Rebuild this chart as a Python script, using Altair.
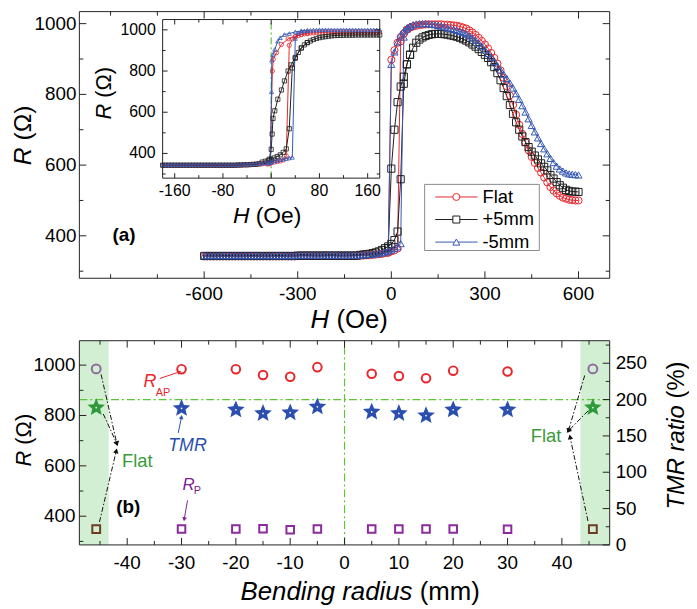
import math
import altair as alt
import pandas as pd

FONT = "Liberation Sans"

# ---------------- panel (a): major loop ----------------
SERIES = ["Flat", "+5mm", "-5mm"]
SERIES_COLORS = ["#e8262c", "#1e1e1e", "#3658b5"]
SERIES_SHAPES = ["circle", "square", "triangle-up"]

H_MAIN = list(range(-600, 601, 10))
R_MAIN_FLAT = [
    342, 342, 342, 342, 342, 342, 342, 342, 342, 342,
    342, 342, 342, 342, 342, 342, 342, 342, 342, 342,
    342, 342, 342, 342, 342, 342, 342, 342, 342, 342,
    343, 343, 343, 343, 343, 343, 343, 343, 343, 343,
    343, 343, 343, 343, 343, 343, 343, 343, 343, 343,
    344, 344, 345, 345, 346, 347, 348, 349, 351, 353,
    356, 359, 364, 950, 972, 983, 989, 992, 994, 996, 997,
    998, 998, 998, 998, 998, 998, 997, 997, 996, 995,
    994, 992, 989, 986, 981, 975, 968, 960, 951, 941,
    930, 917, 903, 887, 868, 847, 823, 797, 770, 742,
    714, 688, 664, 642, 623, 606, 592, 579, 565, 551,
    538, 528, 520, 513, 508, 505, 502, 501, 500, 500,
]
R_MAIN_P5 = [
    343, 343, 343, 343, 343, 343, 343, 343, 343, 343,
    343, 343, 343, 343, 343, 343, 343, 343, 343, 343,
    343, 343, 343, 343, 343, 343, 343, 343, 343, 343,
    344, 344, 344, 344, 344, 344, 344, 344, 344, 344,
    344, 344, 344, 344, 344, 344, 344, 344, 344, 344,
    346, 347, 348, 349, 351, 353, 356, 360, 365, 370,
    377, 388, 412, 560, 830, 885, 912, 932, 946, 955, 961,
    965, 968, 970, 971, 971, 971, 970, 969, 967, 965,
    963, 960, 956, 952, 947, 941, 935, 928, 920, 912,
    903, 891, 877, 860, 840, 818, 795, 770, 745, 721,
    700, 681, 665, 651, 638, 627, 616, 605, 595, 585,
    572, 562, 552, 543, 536, 530, 527, 525, 525, 524,
]
R_MAIN_M5 = [
    344, 344, 344, 344, 344, 344, 344, 344, 344, 344,
    344, 344, 344, 344, 344, 344, 344, 344, 344, 344,
    344, 344, 344, 344, 344, 344, 344, 344, 344, 344,
    345, 345, 345, 345, 345, 345, 345, 345, 345, 345,
    345, 345, 345, 345, 345, 345, 345, 345, 345, 345,
    346, 346, 347, 347, 348, 349, 350, 352, 354, 357,
    360, 364, 369, 378, 962, 985, 993, 997, 999, 1000, 1000,
    1000, 999, 998, 997, 995, 993, 991, 988, 986, 984,
    981, 978, 975, 971, 966, 960, 953, 945, 936, 926,
    916, 905, 893, 881, 869, 857, 845, 832, 818, 802,
    786, 768, 750, 731, 712, 694, 677, 661, 646, 632,
    619, 607, 597, 589, 583, 578, 575, 574, 573, 572,
]
H_MAIN_DOWN = [60, 50, 40, 30, 20, 10, 0, -10]
R_MAIN_DOWN_FLAT = [989, 983, 972, 962, 946, 925, 898, 352]
R_MAIN_DOWN_P5 = [912, 885, 850, 822, 778, 700, 590, 365]
R_MAIN_DOWN_M5 = [993, 988, 979, 968, 948, 920, 885, 357]

# inset (minor field range)
H_INSET = list(range(-180, 181, 5))
R_INSET_FLAT = [
    342, 342, 342, 342, 342, 342, 342, 342, 342, 342,
    342, 342, 342, 342, 342, 342, 342, 342, 342, 342,
    342, 342, 342, 342, 342,
    343, 343, 344, 344, 345, 346, 347, 348,
    349, 351, 353, 355, 357, 360, 363, 368, 389, 925,
    955, 966, 972, 977, 980, 982, 984, 985, 986, 987,
    987, 987, 988, 988, 988, 988, 988, 988, 988, 988,
    988, 988, 988, 988, 988, 988, 988, 988, 988, 988,
]
R_INSET_P5 = [
    343, 343, 343, 343, 343, 343, 343, 343, 343, 343,
    343, 343, 343, 343, 343, 343, 343, 343, 343, 343,
    343, 343, 343, 343, 343,
    344, 344, 345, 345, 346, 347, 348, 350,
    358, 362, 366, 371, 378, 385, 393, 405, 422, 520,
    815, 862, 890, 912, 927, 938, 946, 953, 958, 962,
    965, 967, 969, 971, 972, 973, 973, 974, 974, 974,
    974, 975, 975, 975, 975, 975, 975, 975, 975, 975,
]
R_INSET_M5 = [
    345, 345, 345, 345, 345, 345, 345, 345, 345, 345,
    345, 345, 345, 345, 345, 345, 345, 345, 345, 345,
    345, 345, 345, 345, 345,
    346, 346, 347, 347, 348, 349, 350, 351,
    352, 355, 357, 360, 363, 366, 369, 372, 375, 378,
    381, 958, 985, 993, 995, 997, 998, 999, 999, 1000,
    1000, 1000, 1000, 1000, 1000, 1000, 1000, 1000, 1000, 1000,
    1000, 1000, 1000, 1000, 1000, 1000, 1000, 1000, 1000, 1000,
]
H_INSET_DOWN_FLAT = [60, 50, 40, 28, 17, 9, 3.5, 2, -2, -6]
R_INSET_DOWN_FLAT = [982, 977, 968, 956, 929, 889, 857, 800, 350, 348]
H_INSET_DOWN_P5 = [60, 50, 40, 33, 28, 22, 17, 11, 6, 3, 1.6, 0, -3]
R_INSET_DOWN_P5 = [938, 912, 866, 830, 800, 752, 708, 663, 607, 570, 494, 420, 372]
H_INSET_DOWN_M5 = [60, 50, 40, 30, 22, 15, 11, 6, 3, 1, 0.5, -1, -5]
R_INSET_DOWN_M5 = [997, 995, 990, 982, 977, 962, 945, 905, 880, 853, 699, 355, 352]

A_LABEL_X = [-857]
A_LABEL_Y = [403]

# ---------------- panel (b): bending ----------------
RADIUS = [-30, -20, -15, -10, -5, 5, 10, 15, 20, 30]
R_AP = [984, 984, 961, 954, 992, 966, 957, 948, 978, 975]
R_P = [349, 349, 350, 346, 349, 349, 349, 349, 349, 348]
TMR = [188, 186, 181, 182, 190, 183, 181, 178, 186, 186]
FLAT_X = [-45.7, 45.7]
FLAT_RAP = [985, 985]
FLAT_RP = [349, 349]
FLAT_TMR = [189, 189]
SHADE_X1 = [-48.8, 43.4]
SHADE_X2 = [-43.4, 48.8]

ARROW_COLOR_X1 = [-34.0, -30.6, -28.9]
ARROW_COLOR_Y1 = [947, 731, 463]
ARROW_COLOR_X2 = [-30.4, -30.0, -29.5]
ARROW_COLOR_Y2 = [973, 794, 388]
ARROW_COLORS = ["#e8262c", "#2b4fae", "#7f2196"]
FLAT_ARROW_X1 = [-44.8, -44.4, -45.1, 44.2, 44.8, 44.8]
FLAT_ARROW_Y1 = [963, 806, 377, 959, 818, 381]
FLAT_ARROW_X2 = [-41.9, -41.9, -42.0, 41.2, 41.2, 41.5]
FLAT_ARROW_Y2 = [688, 688, 660, 739, 739, 715]

# tick values
MX_MAJ = [-600, -300, 0, 300, 600]
MX_MIN = [-900, -750, -450, -150, 150, 450]
MY_MAJ = [400, 600, 800, 1000]
MY_MIN = [300, 500, 700, 900]
IX_MAJ = [-160, -80, 0, 80, 160]
IX_MIN = [-120, -40, 40, 120]
IY_MAJ = [400, 600, 800, 1000]
IY_MIN = [300, 500, 700, 900]
BX_MAJ = [-40, -30, -20, -10, 0, 10, 20, 30, 40]
BX_MIN = [-45, -35, -25, -15, -5, 5, 15, 25, 35, 45]
BYL_MAJ = [400, 600, 800, 1000]
BYL_MIN = [300, 500, 700, 900]
BYR_MAJ = [0, 50, 100, 150, 200, 250]
BYR_MIN = [25, 75, 125, 175, 225, 275]

# ---------------- geometry (pixels inside the plot area) ----------------
W = 535
HT = 269
B0, B1 = 332, 538
HTOT = B1
IX0, IX1, IY0, IY1 = 84, 303, 8, 168

xs_main = alt.Scale(domain=[-1000, 700], range=[0, W], nice=False, zero=False)
ys_main = alt.Scale(domain=[280, 1034], range=[HT, 0], nice=False, zero=False)
xs_in = alt.Scale(domain=[-180, 180], range=[IX0, IX1], nice=False, zero=False)
ys_in = alt.Scale(domain=[280, 1050], range=[IY1, IY0], nice=False, zero=False)
xs_b = alt.Scale(domain=[-48.8, 48.8], range=[0, W], nice=False, zero=False)
ys_R = alt.Scale(domain=[286, 1097], range=[B1, B0], nice=False, zero=False)
ys_T = alt.Scale(domain=[0, 281], range=[B1, B0], nice=False, zero=False)


def star_path(r_in=0.45):
    pts = []
    for k in range(10):
        a = math.radians(-90 + 36 * k)
        r = 1.0 if k % 2 == 0 else r_in
        pts.append(f"{r * math.cos(a):.3f},{r * math.sin(a):.3f}")
    return "M" + "L".join(pts) + "Z"


STAR = star_path()
layers = []


def X(f, sc):
    return alt.X(f, scale=sc, axis=None)


def Y(f, sc):
    return alt.Y(f, scale=sc, axis=None)


def ticks_x(values, sc, y1, y2):
    return alt.Chart(pd.DataFrame({"v": values})).mark_rule(color="#222", strokeWidth=1).encode(
        x=X("v:Q", sc), y=alt.value(y1), y2=alt.value(y2))


def ticks_y(values, sc, x1, x2):
    return alt.Chart(pd.DataFrame({"v": values})).mark_rule(color="#222", strokeWidth=1).encode(
        y=Y("v:Q", sc), x=alt.value(x1), x2=alt.value(x2))


def labels_x(values, sc, y, size):
    return alt.Chart(pd.DataFrame({"v": values, "t": [str(v) for v in values]})).mark_text(
        font=FONT, fontSize=size, align="center", baseline="top", color="black").encode(
        x=X("v:Q", sc), y=alt.value(y), text="t:N")


def labels_y(values, sc, x, size, align):
    return alt.Chart(pd.DataFrame({"v": values, "t": [str(v) for v in values]})).mark_text(
        font=FONT, fontSize=size, align=align, baseline="middle", color="black").encode(
        y=Y("v:Q", sc), x=alt.value(x), text="t:N")


def ptext(text, x, y, size, color="black", style="normal", weight="normal",
          align="left", baseline="alphabetic", angle=0):
    return alt.Chart(pd.DataFrame({"t": [text]})).mark_text(
        font=FONT, fontSize=size, fontStyle=style, fontWeight=weight, color=color,
        align=align, baseline=baseline, angle=angle).encode(
        x=alt.value(x), y=alt.value(y), text="t:N")


def title_pair(ital, normal, x, y, size, vertical=False):
    gap = 0.28 * size
    if vertical:
        return [ptext(ital, x, y, size, style="italic", align="right", angle=270),
                ptext(normal, x, y - gap, size, align="left", angle=270)]
    return [ptext(ital, x, y, size, style="italic", align="right"),
            ptext(normal, x + gap, y, size, align="left")]


def frame(xsc, ysc, xd, yd):
    return alt.Chart(pd.DataFrame({"x": [xd[0]], "x2": [xd[1]], "y": [yd[0]], "y2": [yd[1]]})).mark_rect(
        fillOpacity=0, stroke="#222", strokeWidth=1).encode(
        x=X("x:Q", xsc), x2="x2:Q", y=Y("y:Q", ysc), y2="y2:Q")


def loop_frame(up_H, ups, downs_H, downs):
    rows = []
    for k, s in enumerate(SERIES):
        for i, (h, r) in enumerate(zip(up_H, ups[k])):
            rows.append({"series": s, "col": SERIES_COLORS[k], "shp": SERIES_SHAPES[k],
                         "key": f"{k}u", "o": i, "H": h, "R": r})
        for i, (h, r) in enumerate(zip(downs_H[k], downs[k])):
            rows.append({"series": s, "col": SERIES_COLORS[k], "shp": SERIES_SHAPES[k],
                         "key": f"{k}d", "o": i, "H": h, "R": r})
    return pd.DataFrame(rows)


def loop_layers(df, xsc, ysc, msize, sw):
    lines = alt.Chart(df).mark_line(strokeWidth=1).encode(
        x=X("H:Q", xsc), y=Y("R:Q", ysc),
        color=alt.Color("col:N", scale=None), detail="key:N", order="o:Q")
    pts = alt.Chart(df).mark_point(filled=False, size=msize, strokeWidth=sw, opacity=1).encode(
        x=X("H:Q", xsc), y=Y("R:Q", ysc),
        color=alt.Color("col:N", scale=None), shape=alt.Shape("shp:N", scale=None))
    return [lines, pts]


df_main = loop_frame(H_MAIN, [R_MAIN_FLAT, R_MAIN_P5, R_MAIN_M5],
                     [H_MAIN_DOWN] * 3, [R_MAIN_DOWN_FLAT, R_MAIN_DOWN_P5, R_MAIN_DOWN_M5])
df_in = loop_frame(H_INSET, [R_INSET_FLAT, R_INSET_P5, R_INSET_M5],
                   [H_INSET_DOWN_FLAT, H_INSET_DOWN_P5, H_INSET_DOWN_M5],
                   [R_INSET_DOWN_FLAT, R_INSET_DOWN_P5, R_INSET_DOWN_M5])

# ---- panel (a) main ----
layers += loop_layers(df_main, xs_main, ys_main, 52, 1)
layers += [
    frame(xs_main, ys_main, (-1000, 700), (280, 1034)),
    ticks_x(MX_MAJ, xs_main, HT - 7, HT), ticks_x(MX_MIN, xs_main, HT - 4, HT),
    ticks_x(MX_MAJ, xs_main, 0, 7), ticks_x(MX_MIN, xs_main, 0, 4),
    ticks_y(MY_MAJ, ys_main, 0, 7), ticks_y(MY_MIN, ys_main, 0, 4),
    ticks_y(MY_MAJ, ys_main, W - 7, W), ticks_y(MY_MIN, ys_main, W - 4, W),
    labels_x(MX_MAJ, xs_main, HT + 6.5, 19),
    labels_y(MY_MAJ, ys_main, -3, 19, "right"),
    alt.Chart(pd.DataFrame({"x": A_LABEL_X, "y": A_LABEL_Y, "t": ["(a)"]})).mark_text(
        font=FONT, fontSize=19, fontWeight="bold", color="black").encode(
        x=X("x:Q", xs_main), y=Y("y:Q", ys_main), text="t:N"),
    *title_pair("R", "(\u03a9)", -49, 137, 25, vertical=True),
    *title_pair("H", "(Oe)", 252, 319, 26),
]

# ---- inset ----
layers += [
    alt.Chart(pd.DataFrame({"x": [0], "y": [280], "y2": [1050]})).mark_rule(
        color="#5cc43a", strokeDash=[7, 3, 2, 3], strokeWidth=1.2).encode(
        x=X("x:Q", xs_in), y=Y("y:Q", ys_in), y2="y2:Q"),
]
layers += loop_layers(df_in, xs_in, ys_in, 18, 0.8)
layers += [
    frame(xs_in, ys_in, (-180, 180), (280, 1050)),
    ticks_x(IX_MAJ, xs_in, IY1 - 5, IY1), ticks_x(IX_MIN, xs_in, IY1 - 3, IY1),
    ticks_x(IX_MAJ, xs_in, IY0, IY0 + 5), ticks_x(IX_MIN, xs_in, IY0, IY0 + 3),
    ticks_y(IY_MAJ, ys_in, IX0, IX0 + 5), ticks_y(IY_MIN, ys_in, IX0, IX0 + 3),
    ticks_y(IY_MAJ, ys_in, IX1 - 5, IX1), ticks_y(IY_MIN, ys_in, IX1 - 3, IX1),
    labels_x(IX_MAJ, xs_in, IY1 + 5.5, 16),
    labels_y(IY_MAJ, ys_in, IX0 - 7, 16, "right"),
    *title_pair("R", "(\u03a9)", 32, 93, 22, vertical=True),
    *title_pair("H", "(Oe)", 171.5, 213.5, 23),
]

# ---- legend (guide) ----
leg_df = pd.DataFrame({"series": SERIES, "col": SERIES_COLORS, "shp": SERIES_SHAPES, "row": [0, 1, 2]})
leg_y = alt.Scale(domain=[0, 2], range=[187, 232.5], nice=False, zero=False)
layers += [
    alt.Chart(pd.DataFrame({"a": [0]})).mark_rect(fill="white", stroke="#8a8a8a", strokeWidth=1).encode(
        x=alt.value(348.3), x2=alt.value(464), y=alt.value(174.3), y2=alt.value(241)),
    alt.Chart(leg_df).mark_rule(strokeWidth=1).encode(
        x=alt.value(359), x2=alt.value(401.7), y=Y("row:Q", leg_y),
        color=alt.Color("col:N", scale=None)),
    alt.Chart(leg_df).mark_point(filled=True, fill="white", size=50, strokeWidth=1, opacity=1).encode(
        x=alt.value(380.3), y=Y("row:Q", leg_y),
        stroke=alt.Stroke("col:N", scale=None), shape=alt.Shape("shp:N", scale=None)),
    alt.Chart(leg_df).mark_text(font=FONT, fontSize=18.5, align="left", baseline="middle",
                                color="black").encode(
        x=alt.value(406.7), y=Y("row:Q", leg_y), text="series:N"),
]

# ---- panel (b) ----
KX = W / (48.8 * 2)
KY = (B1 - B0) / (1097 - 286)


def head_angle(x1, y1, x2, y2):
    dx = (x2 - x1) * KX
    dy = -(y2 - y1) * KY
    return (math.degrees(math.atan2(dx, -dy)) + 360) % 360


bdf = pd.DataFrame({"x": RADIUS, "rap": R_AP, "rp": R_P, "tmr": TMR})
fdf = pd.DataFrame({"x": FLAT_X, "rap": FLAT_RAP, "rp": FLAT_RP, "tmr": FLAT_TMR})
shade_df = pd.DataFrame({"x": SHADE_X1, "x2": SHADE_X2, "y": [286, 286], "y2": [1097, 1097]})

carr = pd.DataFrame({"x": ARROW_COLOR_X1, "y": ARROW_COLOR_Y1, "x2": ARROW_COLOR_X2,
                     "y2": ARROW_COLOR_Y2, "c": ARROW_COLORS})
carr["ang"] = [head_angle(a, b, c, d) for a, b, c, d in
               zip(ARROW_COLOR_X1, ARROW_COLOR_Y1, ARROW_COLOR_X2, ARROW_COLOR_Y2)]
farr = pd.DataFrame({"x": FLAT_ARROW_X1, "y": FLAT_ARROW_Y1, "x2": FLAT_ARROW_X2, "y2": FLAT_ARROW_Y2})
farr["ang"] = [head_angle(a, b, c, d) for a, b, c, d in
               zip(FLAT_ARROW_X1, FLAT_ARROW_Y1, FLAT_ARROW_X2, FLAT_ARROW_Y2)]

layers += [
    alt.Chart(shade_df).mark_rect(color="#d3efd3").encode(
        x=X("x:Q", xs_b), x2="x2:Q", y=Y("y:Q", ys_R), y2="y2:Q"),
    alt.Chart(pd.DataFrame({"x": [0], "y": [286], "y2": [1097]})).mark_rule(
        color="#5cc43a", strokeDash=[8, 3, 2, 3], strokeWidth=1.2).encode(
        x=X("x:Q", xs_b), y=Y("y:Q", ys_R), y2="y2:Q"),
    alt.Chart(pd.DataFrame({"x": [-48.8], "x2": [48.8], "t": [200]})).mark_rule(
        color="#5cc43a", strokeDash=[8, 3, 2, 3], strokeWidth=1.2).encode(
        y=Y("t:Q", ys_T), x=X("x:Q", xs_b), x2="x2:Q"),
    alt.Chart(farr).mark_rule(strokeWidth=1, color="#111", strokeDash=[5, 2, 1.5, 2]).encode(
        x=X("x:Q", xs_b), y=Y("y:Q", ys_R), x2="x2:Q", y2="y2:Q"),
    alt.Chart(farr).mark_point(shape="triangle-up", filled=True, size=30, color="#111", opacity=1).encode(
        x=X("x2:Q", xs_b), y=Y("y2:Q", ys_R), angle=alt.Angle("ang:Q", scale=None)),
    alt.Chart(carr).mark_rule(strokeWidth=1).encode(
        x=X("x:Q", xs_b), y=Y("y:Q", ys_R), x2="x2:Q", y2="y2:Q", color=alt.Color("c:N", scale=None)),
    alt.Chart(carr).mark_point(shape="triangle-up", filled=True, size=22, opacity=1).encode(
        x=X("x2:Q", xs_b), y=Y("y2:Q", ys_R), color=alt.Color("c:N", scale=None),
        angle=alt.Angle("ang:Q", scale=None)),
    alt.Chart(bdf).mark_point(shape="circle", filled=False, size=75, strokeWidth=2,
                              color="#e8262c", opacity=1).encode(x=X("x:Q", xs_b), y=Y("rap:Q", ys_R)),
    alt.Chart(bdf).mark_point(shape="square", filled=False, size=58, strokeWidth=2,
                              color="#8a2a9c", opacity=1).encode(x=X("x:Q", xs_b), y=Y("rp:Q", ys_R)),
    alt.Chart(fdf).mark_point(shape="circle", filled=False, size=80, strokeWidth=2,
                              color="#8f6a9e", opacity=1).encode(x=X("x:Q", xs_b), y=Y("rap:Q", ys_R)),
    alt.Chart(fdf).mark_point(shape="square", filled=False, size=62, strokeWidth=2,
                              color="#6b3c22", opacity=1).encode(x=X("x:Q", xs_b), y=Y("rp:Q", ys_R)),
    alt.Chart(bdf).mark_point(shape=STAR, filled=True, size=350, color="#2b4fae",
                              opacity=1).encode(x=X("x:Q", xs_b), y=Y("tmr:Q", ys_T)),
    alt.Chart(fdf).mark_point(shape=STAR, filled=True, size=350, color="#2e9a3a",
                              opacity=1).encode(x=X("x:Q", xs_b), y=Y("tmr:Q", ys_T)),
    alt.Chart(pd.concat([bdf, fdf])).mark_point(shape="circle", filled=True, size=3, color="white",
                                                opacity=1).encode(x=X("x:Q", xs_b), y=Y("tmr:Q", ys_T)),
]

ANN_TEXT = ["R", "AP", "TMR", "R", "P", "Flat", "Flat", "(b)"]
ANN_X = [-35.8, -33.4, -28.9, -28.7, -27.1, -40.95, 37.1, -39.8]
ANN_Y = [934, 890, 680, 522, 500, 619, 717, 438]
ANN_SIZE = [18, 11, 18, 17, 11, 18.5, 18.5, 19]
ANN_COLOR = ["#e8262c", "#e8262c", "#2b4fae", "#7f2196", "#7f2196", "#3a9a3a", "#3a9a3a", "black"]
ANN_STYLE = ["italic", "normal", "italic", "italic", "normal", "normal", "normal", "normal"]
ANN_WEIGHT = ["normal"] * 7 + ["bold"]
ANN_ALIGN = ["center"] * 5 + ["left", "center", "center"]
for t, x, y, s, c, st, wt, al in zip(ANN_TEXT, ANN_X, ANN_Y, ANN_SIZE, ANN_COLOR, ANN_STYLE, ANN_WEIGHT, ANN_ALIGN):
    layers.append(alt.Chart(pd.DataFrame({"x": [x], "y": [y], "t": [t]})).mark_text(
        font=FONT, fontSize=s, color=c, fontStyle=st, fontWeight=wt, align=al, baseline="middle").encode(
        x=X("x:Q", xs_b), y=Y("y:Q", ys_R), text="t:N"))

layers += [
    frame(xs_b, ys_R, (-48.8, 48.8), (286, 1097)),
    ticks_x(BX_MAJ, xs_b, B1 - 7, B1), ticks_x(BX_MIN, xs_b, B1 - 4, B1),
    ticks_x(BX_MAJ, xs_b, B0, B0 + 7), ticks_x(BX_MIN, xs_b, B0, B0 + 4),
    ticks_y(BYL_MAJ, ys_R, 0, 7), ticks_y(BYL_MIN, ys_R, 0, 4),
    ticks_y(BYR_MAJ, ys_T, W - 7, W), ticks_y(BYR_MIN, ys_T, W - 4, W),
    labels_x(BX_MAJ, xs_b, B1 + 9, 19),
    labels_y(BYL_MAJ, ys_R, -4, 19, "right"),
    labels_y(BYR_MAJ, ys_T, W + 6, 19, "left"),
    *title_pair("R", "(\u03a9)", -49, B0 + 111, 22, vertical=True),
    *title_pair("Bending radius", "(mm)", 336, B0 + 262, 26),
    *title_pair("TMR ratio", "(%)", 610, B0 + 65, 24, vertical=True),
]

chart = alt.layer(*layers).resolve_scale(
    x="independent", y="independent").properties(
    width=W, height=HTOT, padding={"left": 3, "top": 0, "right": 0, "bottom": 0}).configure(
    font=FONT).configure_view(strokeWidth=0)

chart.save("out.html", embed_options={"renderer": "svg", "actions": False})
